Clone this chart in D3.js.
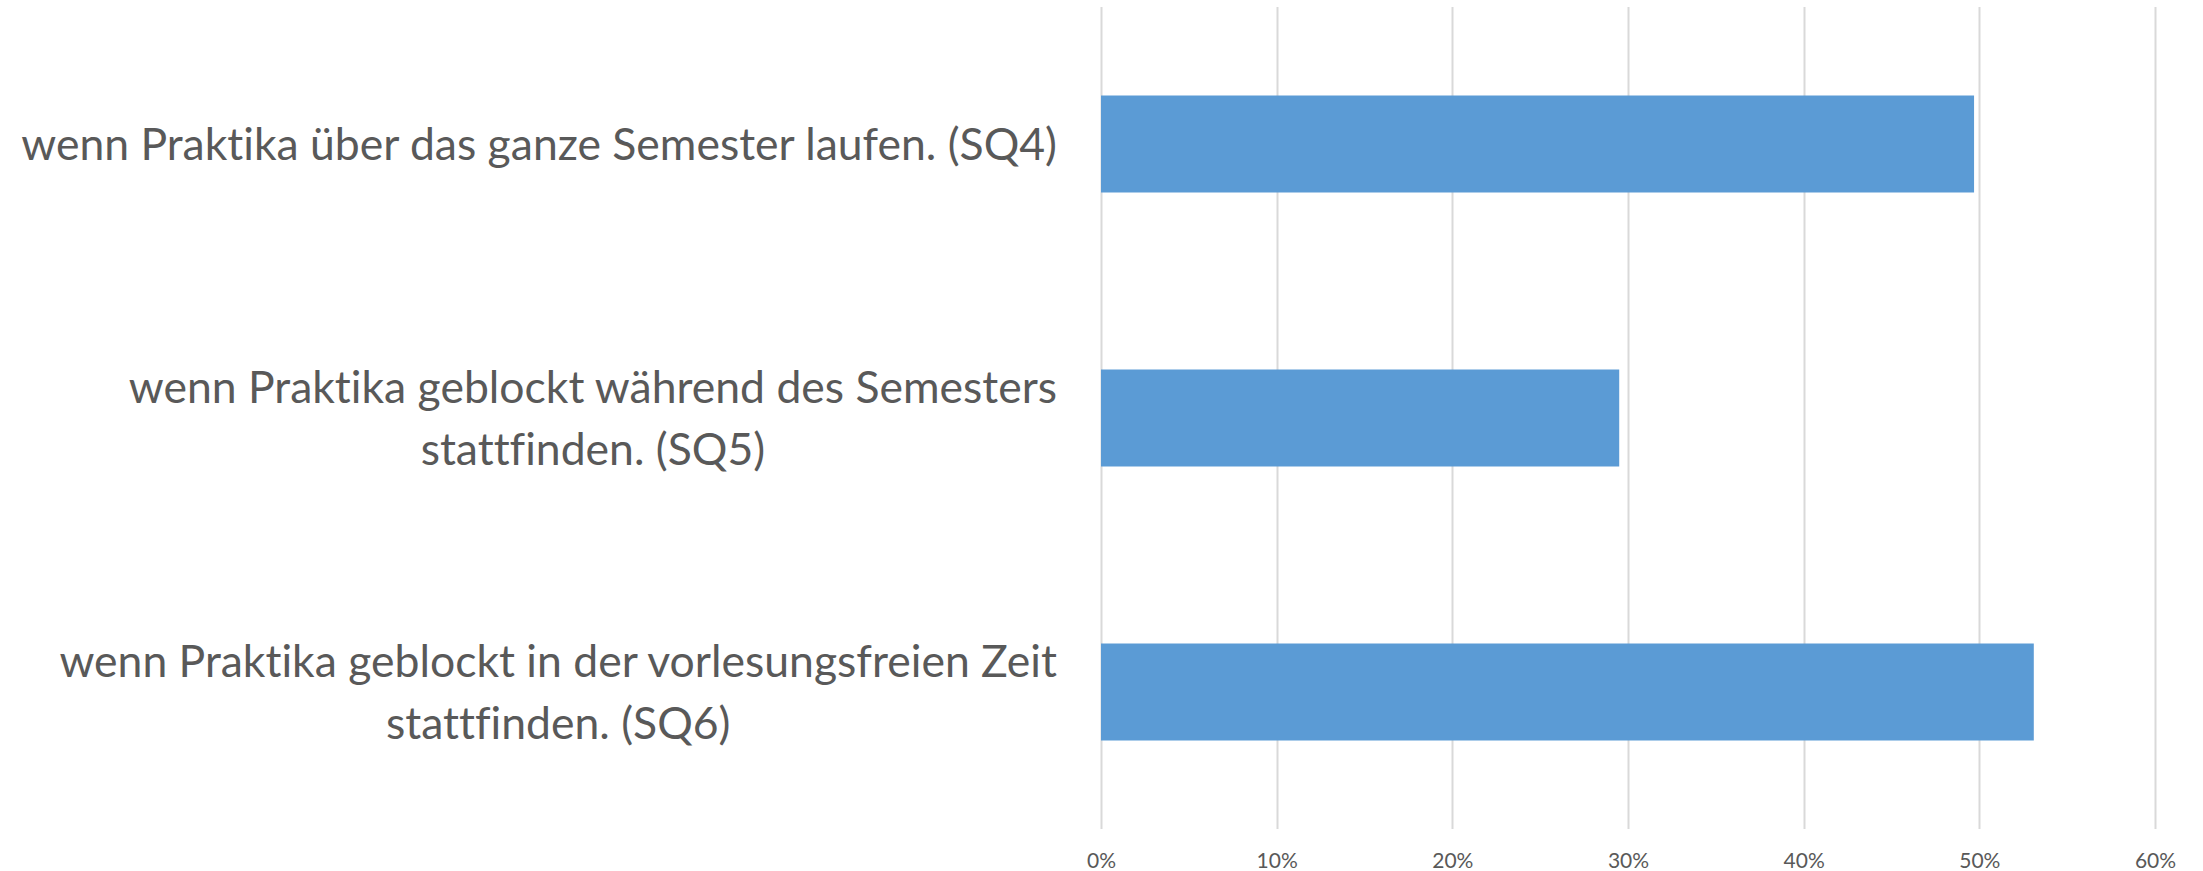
<!DOCTYPE html>
<html>
<head lang="de">
    <meta charset="UTF-8">
    <title>Praktika SQ4-SQ6</title>
    <script type="text/javascript" src="https://cdn.jsdelivr.net/npm/d3@7/dist/d3.min.js"></script>
    <style>
        body { margin: 0; background: #fff; }
        svg text { font-family: Lato, "Open Sans", sans-serif; fill: #595959; font-variant-ligatures: none; }
    </style>
</head>
<body>
<svg width="2203" height="871"></svg>

<script>
    // categories, one entry per bar (line breaks as in the original)
    var categories = ["SQ4", "SQ5", "SQ6"];
    var labelLines = [
        ["wenn Praktika über das ganze Semester laufen. (SQ4)"],
        ["wenn Praktika geblockt während des Semesters", "stattfinden. (SQ5)"],
        ["wenn Praktika geblockt in der vorlesungsfreien Zeit", "stattfinden. (SQ6)"]
    ];
    var values = [0.497, 0.295, 0.531];
    var tickValues = [0, 0.1, 0.2, 0.3, 0.4, 0.5, 0.6];

    var svg = d3.select("svg");
    // note: "top" is taken by window.top, so plot edges get their own names
    var plotLeft = 1101, plotRight = 2155, plotTop = 7, plotBottom = 829;

    var x = d3.scaleLinear().domain([0, 0.6]).range([plotLeft, plotRight]);
    var y = d3.scaleBand().domain(categories).range([plotTop, plotBottom])
            .paddingInner(0.646).paddingOuter(0.323);

    // vertical gridlines
    svg.append("g").selectAll("line")
            .data(tickValues)
            .enter().append("line")
            .attr("x1", function (d) { return Math.round(x(d)) + 0.5; })
            .attr("x2", function (d) { return Math.round(x(d)) + 0.5; })
            .attr("y1", plotTop)
            .attr("y2", plotBottom)
            .style("stroke", "#d9d9d9")
            .style("stroke-width", 2);

    // bars
    svg.append("g").selectAll("rect")
            .data(values)
            .enter().append("rect")
            .attr("x", x(0))
            .attr("y", function (d, i) { return y(categories[i]); })
            .attr("width", function (d) { return x(d) - x(0); })
            .attr("height", y.bandwidth())
            .style("fill", "#5b9bd5");

    // x axis tick labels
    var xAxis = d3.axisBottom(x).tickValues(tickValues).tickSize(0).tickPadding(0)
            .tickFormat(d3.format(".0%"));
    var gx = svg.append("g").attr("transform", "translate(0," + 853 + ")").call(xAxis);
    gx.select(".domain").remove();
    gx.selectAll("text")
            .attr("dy", "0.71em")
            .style("font-family", "Lato, sans-serif")
            .style("font-size", "21px")
            .style("fill", "#595959");

    // category labels: block right aligned to the axis, lines centred in the block
    var fontSize = 44.5, lineH = 62, labelRight = 1057;
    labelLines.forEach(function (lines, i) {
        var cy = y(categories[i]) + y.bandwidth() / 2;
        var t = svg.append("text")
                .style("font-size", fontSize + "px")
                .attr("text-anchor", "middle");
        lines.forEach(function (s, j) {
            t.append("tspan")
                    .attr("x", 0)
                    .attr("y", cy + (j - (lines.length - 1) / 2) * lineH)
                    .attr("dy", "0.35em")
                    .text(s);
        });
        var w = t.node().getBBox().width;
        t.attr("transform", "translate(" + (labelRight - w / 2) + ",0)");
    });
</script>
</body>
</html>
